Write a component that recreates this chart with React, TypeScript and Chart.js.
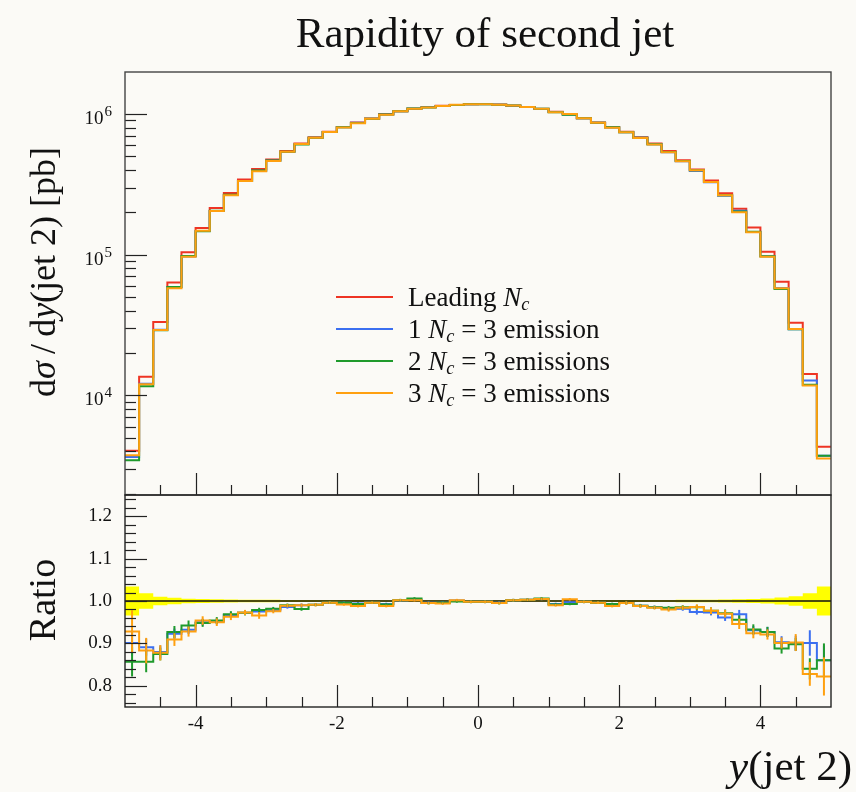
import React, { useEffect, useRef } from "react";
import { Chart, registerables } from "chart.js";

Chart.register(...registerables);

const FONT = '"Liberation Serif", "Times New Roman", serif';
const RED = "#ee3424";
const BLUE = "#3b6ff0";
const GREEN = "#1f9a2c";
const ORANGE = "#ffa00f";
const YELLOW = "#ffff00";

// 50 bins of width 0.2 from -5 to 5
const binEdges = Array.from({ length: 51 }, (_, i) => Math.round((-5 + 0.2 * i) * 10) / 10);

// dσ/dy [pb], Leading Nc
const leadingNc = [
  4035, 13560, 33200, 63500, 104000, 155000, 215000, 275000, 343000, 406000,
  475000, 545000, 618000, 685000, 747000, 810000, 871000, 930000, 1000000, 1045000,
  1090000, 1120000, 1146000, 1160000, 1175000, 1178000, 1168000, 1146000, 1120000, 1085000,
  1040000, 995000, 935000, 871000, 810000, 747000, 685000, 618000, 545000, 470000,
  404000, 337000, 273000, 212000, 156000, 105000, 64100, 32800, 14160, 4315,
];

// ratios to Leading Nc
const ratio1Emission = [
  0.901, 0.891, 0.880, 0.923, 0.932, 0.950, 0.952, 0.967, 0.972, 0.975,
  0.978, 0.986, 0.990, 0.991, 0.996, 0.996, 0.994, 0.996, 0.993, 1.001,
  1.003, 0.996, 0.996, 1.001, 0.998, 0.998, 0.996, 1.002, 1.003, 1.005,
  0.993, 0.997, 0.998, 0.996, 0.992, 0.995, 0.989, 0.985, 0.982, 0.982,
  0.974, 0.973, 0.961, 0.969, 0.931, 0.927, 0.903, 0.900, 0.901, 0.860,
];
const ratio2Emissions = [
  0.857, 0.857, 0.875, 0.927, 0.942, 0.948, 0.954, 0.969, 0.972, 0.979,
  0.982, 0.990, 0.981, 0.991, 0.996, 0.996, 0.993, 0.996, 0.992, 1.002,
  1.006, 0.995, 0.996, 0.999, 0.998, 0.998, 0.995, 1.002, 1.003, 1.006,
  0.992, 0.993, 0.998, 0.996, 0.993, 0.995, 0.989, 0.985, 0.984, 0.985,
  0.985, 0.977, 0.971, 0.956, 0.933, 0.927, 0.888, 0.898, 0.840, 0.860,
];
const ratio3Emissions = [
  0.928, 0.883, 0.878, 0.909, 0.928, 0.954, 0.950, 0.963, 0.973, 0.966,
  0.976, 0.989, 0.990, 0.991, 0.996, 0.992, 0.988, 0.996, 0.988, 1.002,
  1.002, 0.995, 0.994, 1.002, 0.998, 0.998, 0.995, 1.002, 1.003, 1.005,
  0.990, 1.004, 0.998, 0.996, 0.988, 0.995, 0.988, 0.984, 0.980, 0.984,
  0.986, 0.977, 0.970, 0.946, 0.924, 0.921, 0.901, 0.902, 0.828, 0.822,
];

// uncertainties on the ratios
const err1Emission = [
  0.03, 0.02, 0.015, 0.012, 0.01, 0.008, 0.007, 0.006, 0.005, 0.005,
  0.004, 0.004, 0.004, 0.003, 0.003, 0.003, 0.003, 0.003, 0.003, 0.003,
  0.003, 0.003, 0.003, 0.003, 0.003, 0.003, 0.003, 0.003, 0.003, 0.003,
  0.003, 0.003, 0.003, 0.003, 0.003, 0.003, 0.004, 0.004, 0.004, 0.005,
  0.006, 0.007, 0.008, 0.01, 0.01, 0.012, 0.014, 0.018, 0.03, 0.035,
];
const err2Emissions = [
  0.035, 0.025, 0.015, 0.014, 0.012, 0.009, 0.008, 0.007, 0.006, 0.005,
  0.004, 0.004, 0.004, 0.003, 0.003, 0.003, 0.003, 0.003, 0.003, 0.003,
  0.003, 0.003, 0.003, 0.003, 0.003, 0.003, 0.003, 0.003, 0.003, 0.003,
  0.003, 0.003, 0.003, 0.003, 0.003, 0.003, 0.004, 0.004, 0.004, 0.005,
  0.006, 0.008, 0.009, 0.01, 0.012, 0.012, 0.012, 0.015, 0.025, 0.04,
];
const err3Emissions = [
  0.05, 0.03, 0.018, 0.015, 0.012, 0.01, 0.009, 0.008, 0.006, 0.008,
  0.005, 0.004, 0.004, 0.004, 0.003, 0.003, 0.003, 0.003, 0.003, 0.003,
  0.003, 0.003, 0.003, 0.003, 0.003, 0.003, 0.003, 0.003, 0.003, 0.003,
  0.003, 0.003, 0.003, 0.003, 0.003, 0.004, 0.004, 0.004, 0.005, 0.005,
  0.006, 0.008, 0.009, 0.012, 0.012, 0.012, 0.013, 0.02, 0.028, 0.045,
];

// half width of the Leading Nc uncertainty band (yellow)
const bandHalfWidth = [
  0.034, 0.018, 0.01, 0.0075, 0.0055, 0.0045, 0.004, 0.0035, 0.003, 0.003,
  0.0028, 0.0026, 0.0025, 0.0024, 0.0023, 0.0022, 0.0021, 0.002, 0.002, 0.002,
  0.002, 0.002, 0.002, 0.002, 0.002, 0.002, 0.002, 0.002, 0.002, 0.002,
  0.002, 0.002, 0.002, 0.0021, 0.0022, 0.0023, 0.0024, 0.0025, 0.0026, 0.0028,
  0.003, 0.0032, 0.0036, 0.004, 0.005, 0.006, 0.008, 0.011, 0.018, 0.034,
];

// axes
const xRange = [-5, 5];
const xMajorTicks = [-4, -2, 0, 2, 4];
const xTickLabels = ["-4", "-2", "0", "2", "4"];
const xMinorTicks = [-4.5, -3.5, -3, -2.5, -1.5, -1, -0.5, 0.5, 1, 1.5, 2.5, 3, 3.5, 4.5];
const yTopRange = [1955, 1.99e6];
const yTopMajorTicks = [1e4, 1e5, 1e6];
const yTopTickBase = "10";
const yTopTickExponents = ["4", "5", "6"];
const yTopMinorTicks: number[] = [];
[1e3, 1e4, 1e5].forEach((d) => {
  for (let k = 2; k <= 9; k++) yTopMinorTicks.push(k * d);
});
const yRatioRange = [0.75, 1.25];
const yRatioMajorTicks = [0.8, 0.9, 1.0, 1.1, 1.2];
const yRatioTickLabels = ["0.8", "0.9", "1.0", "1.1", "1.2"];
const yRatioMinorTicks: number[] = [];
for (let k = 38; k <= 62; k++) {
  if (k % 5 !== 0) yRatioMinorTicks.push(k / 50);
}

const stepPoints = (vals: number[]) =>
  vals
    .map((v, i) => ({ x: binEdges[i], y: v }))
    .concat([{ x: binEdges[vals.length], y: vals[vals.length - 1] }]);

const scaled = (base: number[], r: number[]) => base.map((v, i) => v * r[i]);

const frameTicksPlugin = {
  id: "frameTicks",
  afterDraw(chart: any, _args: any, opts: any) {
    const { ctx, chartArea: a } = chart;
    const xs = chart.scales.x;
    const ys = chart.scales.y;
    ctx.save();
    ctx.strokeStyle = "#222";
    ctx.lineWidth = 1.2;
    const line = (x1: number, y1: number, x2: number, y2: number) => {
      ctx.beginPath();
      ctx.moveTo(x1, y1);
      ctx.lineTo(x2, y2);
      ctx.stroke();
    };
    (opts.xMajor || []).forEach((v: number) => {
      const p = Math.round(xs.getPixelForValue(v)) + 0.5;
      line(p, a.bottom, p, a.bottom - 22);
    });
    (opts.xMinor || []).forEach((v: number) => {
      const p = Math.round(xs.getPixelForValue(v)) + 0.5;
      line(p, a.bottom, p, a.bottom - 10);
    });
    (opts.yMajor || []).forEach((v: number) => {
      const p = Math.round(ys.getPixelForValue(v)) + 0.5;
      line(a.left, p, a.left + 22, p);
    });
    (opts.yMinor || []).forEach((v: number) => {
      const p = Math.round(ys.getPixelForValue(v)) + 0.5;
      if (p > a.top && p < a.bottom) line(a.left, p, a.left + 11, p);
    });
    ctx.strokeStyle = opts.frameColor || "#333";
    ctx.lineWidth = 1.4;
    ctx.strokeRect(a.left, a.top, a.right - a.left, a.bottom - a.top);

    // power-of-ten labels with a raised exponent
    if (opts.powerLabels) {
      ctx.fillStyle = "#111";
      ctx.textBaseline = "alphabetic";
      ctx.textAlign = "left";
      opts.powerLabels.values.forEach((v: number, i: number) => {
        const py = ys.getPixelForValue(v);
        const exp = opts.powerLabels.exponents[i];
        ctx.font = `15px ${FONT}`;
        const ew = ctx.measureText(exp).width;
        ctx.font = `19px ${FONT}`;
        const bw = ctx.measureText(opts.powerLabels.base).width;
        const right = a.left - 13;
        ctx.fillText(opts.powerLabels.base, right - ew - bw - 1, py + 10);
        ctx.font = `15px ${FONT}`;
        ctx.fillText(exp, right - ew, py + 2);
      });
    }
    ctx.restore();
  },
};

const errorBarsPlugin = {
  id: "ratioErrors",
  afterDatasetsDraw(chart: any, _args: any, opts: any) {
    const { ctx, chartArea: a } = chart;
    const xs = chart.scales.x;
    const ys = chart.scales.y;
    ctx.save();
    ctx.beginPath();
    ctx.rect(a.left, a.top, a.right - a.left, a.bottom - a.top);
    ctx.clip();
    ctx.lineWidth = 2;
    (opts.series || []).forEach((s: any) => {
      ctx.strokeStyle = s.color;
      s.values.forEach((v: number, i: number) => {
        const cx = xs.getPixelForValue((binEdges[i] + binEdges[i + 1]) / 2);
        ctx.beginPath();
        ctx.moveTo(cx, ys.getPixelForValue(v - s.errors[i]));
        ctx.lineTo(cx, ys.getPixelForValue(v + s.errors[i]));
        ctx.stroke();
      });
    });
    ctx.restore();
  },
};

const lineDs = (label: string, vals: number[], color: string, order: number) => ({
  label,
  data: stepPoints(vals),
  borderColor: color,
  backgroundColor: color,
  borderWidth: 2,
  stepped: "before" as const,
  pointRadius: 0,
  fill: false,
  order,
});

const fixVertical = (s: any) => {
  s.width = 125;
  s.paddingTop = 0;
  s.paddingBottom = 0;
};

export default function App() {
  const topRef = useRef<HTMLCanvasElement>(null);
  const ratioRef = useRef<HTMLCanvasElement>(null);

  useEffect(() => {
    const tickFont = { family: FONT, size: 19 };
    const top = new Chart(topRef.current as HTMLCanvasElement, {
      type: "line",
      data: {
        datasets: [
          lineDs("3 Nc = 3 emissions", scaled(leadingNc, ratio3Emissions), ORANGE, 1),
          lineDs("2 Nc = 3 emissions", scaled(leadingNc, ratio2Emissions), GREEN, 2),
          lineDs("1 Nc = 3 emission", scaled(leadingNc, ratio1Emission), BLUE, 3),
          lineDs("Leading Nc", leadingNc, RED, 4),
        ],
      },
      options: {
        animation: false,
        responsive: false,
        maintainAspectRatio: false,
        layout: { padding: { top: 72, right: 25, bottom: 5, left: 0 } },
        plugins: {
          legend: { display: false },
          tooltip: { enabled: false },
          frameTicks: {
            xMajor: xMajorTicks,
            xMinor: xMinorTicks,
            yMajor: yTopMajorTicks,
            yMinor: yTopMinorTicks,
            frameColor: "#444",
            powerLabels: { values: yTopMajorTicks, base: yTopTickBase, exponents: yTopTickExponents },
          },
        } as any,
        scales: {
          x: { type: "linear", min: xRange[0], max: xRange[1], display: false },
          y: {
            type: "logarithmic",
            min: yTopRange[0],
            max: yTopRange[1],
            afterFit: fixVertical,
            afterBuildTicks: (s: any) => {
              s.ticks = yTopMajorTicks.map((v) => ({ value: v }));
            },
            grid: { display: false, drawTicks: false },
            border: { display: false },
            ticks: { display: false },
          },
        },
      },
      plugins: [frameTicksPlugin],
    });

    const ratio = new Chart(ratioRef.current as HTMLCanvasElement, {
      type: "line",
      data: {
        datasets: [
          lineDs("3 Nc = 3 emissions", ratio3Emissions, ORANGE, 1),
          lineDs("2 Nc = 3 emissions", ratio2Emissions, GREEN, 2),
          lineDs("1 Nc = 3 emission", ratio1Emission, BLUE, 3),
          {
            label: "reference",
            data: [
              { x: xRange[0], y: 1 },
              { x: xRange[1], y: 1 },
            ],
            borderColor: "#111",
            borderWidth: 1.5,
            pointRadius: 0,
            fill: false,
            order: 5,
          },
          {
            label: "band upper",
            data: stepPoints(bandHalfWidth.map((b) => 1 + b)),
            borderColor: "rgba(0,0,0,0)",
            borderWidth: 1,
            stepped: "before",
            pointRadius: 0,
            fill: false,
            order: 10,
          },
          {
            label: "band lower",
            data: stepPoints(bandHalfWidth.map((b) => 1 - b)),
            borderColor: "rgba(0,0,0,0)",
            backgroundColor: YELLOW,
            borderWidth: 1,
            stepped: "before",
            pointRadius: 0,
            fill: "-1",
            order: 11,
          },
        ] as any,
      },
      options: {
        animation: false,
        responsive: false,
        maintainAspectRatio: false,
        layout: { padding: { top: 5, right: 25, bottom: 0, left: 0 } },
        plugins: {
          legend: { display: false },
          tooltip: { enabled: false },
          frameTicks: {
            xMajor: xMajorTicks,
            xMinor: xMinorTicks,
            yMajor: yRatioMajorTicks,
            yMinor: yRatioMinorTicks,
            frameColor: "#222",
          },
          ratioErrors: {
            series: [
              { values: ratio1Emission, errors: err1Emission, color: BLUE },
              { values: ratio2Emissions, errors: err2Emissions, color: GREEN },
              { values: ratio3Emissions, errors: err3Emissions, color: ORANGE },
            ],
          },
        } as any,
        scales: {
          x: {
            type: "linear",
            min: xRange[0],
            max: xRange[1],
            afterFit: (s: any) => {
              s.height = 85;
              s.paddingLeft = 0;
              s.paddingRight = 0;
            },
            afterBuildTicks: (s: any) => {
              s.ticks = xMajorTicks.map((v) => ({ value: v }));
            },
            grid: { display: false, drawTicks: false },
            border: { display: false },
            ticks: {
              padding: 6,
              color: "#111",
              font: tickFont,
              autoSkip: false,
              maxRotation: 0,
              callback: (v: any) => {
                const i = xMajorTicks.indexOf(Number(v));
                return i >= 0 ? xTickLabels[i] : "";
              },
            },
          },
          y: {
            type: "linear",
            min: yRatioRange[0],
            max: yRatioRange[1],
            afterFit: fixVertical,
            afterBuildTicks: (s: any) => {
              s.ticks = yRatioMajorTicks.map((v) => ({ value: v }));
            },
            grid: { display: false, drawTicks: false },
            border: { display: false },
            ticks: {
              padding: 13,
              color: "#111",
              font: tickFont,
              autoSkip: false,
              callback: (v: any) => {
                const i = yRatioMajorTicks.findIndex((t) => Math.abs(t - Number(v)) < 1e-9);
                return i >= 0 ? yRatioTickLabels[i] : "";
              },
            },
          },
        },
      },
      plugins: [frameTicksPlugin, errorBarsPlugin],
    });

    return () => {
      top.destroy();
      ratio.destroy();
    };
  }, []);

  const legendRows = [
    { color: RED, pre: "Leading ", post: "" },
    { color: BLUE, pre: "1 ", post: " = 3 emission" },
    { color: GREEN, pre: "2 ", post: " = 3 emissions" },
    { color: ORANGE, pre: "3 ", post: " = 3 emissions" },
  ];
  const legendY = [297, 329, 361, 393];

  const Nc = (
    <>
      <i>N</i>
      <sub style={{ fontSize: "0.68em", lineHeight: 0, verticalAlign: "-0.22em" }}>
        <i>c</i>
      </sub>
    </>
  );

  return (
    <div
      style={{
        position: "absolute",
        left: 0,
        top: 0,
        width: 856,
        height: 792,
        overflow: "hidden",
        background: "#fbfaf6",
        fontFamily: FONT,
        color: "#111",
      }}
    >
      <canvas
        ref={topRef}
        width={856}
        height={500}
        style={{ position: "absolute", left: 0, top: 0 }}
      />
      <canvas
        ref={ratioRef}
        width={856}
        height={302}
        style={{ position: "absolute", left: 0, top: 490 }}
      />
      <div
        style={{
          position: "absolute",
          left: 132,
          width: 706,
          top: 8,
          textAlign: "center",
          fontSize: 43,
          whiteSpace: "nowrap",
        }}
      >
        Rapidity of second jet
      </div>
      <div
        style={{
          position: "absolute",
          right: 4,
          top: 741,
          fontSize: 43,
          whiteSpace: "nowrap",
        }}
      >
        <i>y</i>(jet 2)
      </div>
      <div
        style={{
          position: "absolute",
          left: 43,
          top: 272,
          transform: "translate(-50%, -50%) rotate(-90deg)",
          fontSize: 36,
          whiteSpace: "nowrap",
        }}
      >
        d<i>σ</i>{"\u2009/\u2009"}d<i>y</i>(jet 2) [pb]
      </div>
      <div
        style={{
          position: "absolute",
          left: 42,
          top: 600,
          transform: "translate(-50%, -50%) rotate(-90deg)",
          fontSize: 38,
          whiteSpace: "nowrap",
        }}
      >
        Ratio
      </div>
      {legendRows.map((r, i) => (
        <div
          key={i}
          style={{
            position: "absolute",
            left: 336,
            top: legendY[i] - 16,
            height: 32,
            display: "flex",
            alignItems: "center",
            whiteSpace: "nowrap",
          }}
        >
          <span style={{ display: "inline-block", width: 57, height: 2, background: r.color, marginRight: 15 }} />
          <span style={{ fontSize: 27, lineHeight: "32px" }}>
            {r.pre}
            {Nc}
            {r.post}
          </span>
        </div>
      ))}
    </div>
  );
}
